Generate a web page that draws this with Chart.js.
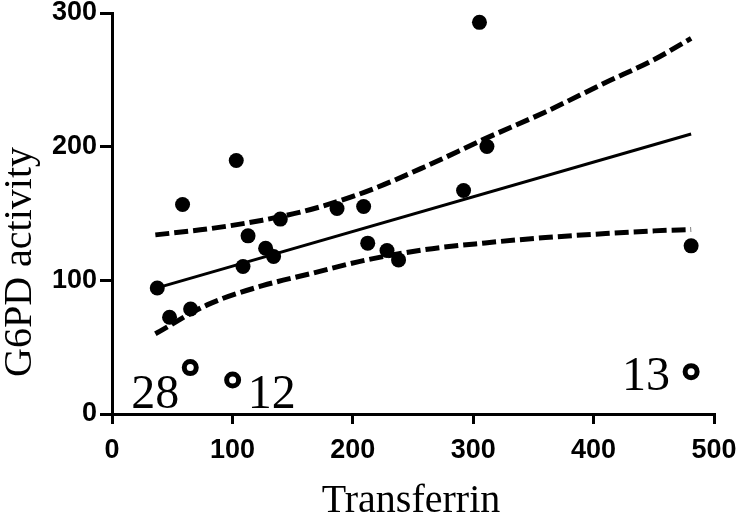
<!DOCTYPE html>
<html>
<head>
<meta charset="utf-8">
<script src="https://cdn.jsdelivr.net/npm/chart.js@4"></script>
<style>
  html, body { margin: 0; padding: 0; background: #fff; }
  #wrap { width: 740px; height: 525px; }
</style>
</head>
<body>
<div id="wrap"><canvas id="chartG6pd"></canvas></div>
<script>
// filled points (included in the fit)
var transferrin = [37.6, 47.8, 58.6, 65.3, 103.2, 108.8, 113, 127.6, 134.2, 139.8, 186.9, 209, 212.4, 228.4, 238, 292, 305.2, 311.4, 481];
var g6pd = [94.3, 72.4, 156.7, 78.6, 189.6, 110.3, 133.3, 124, 117.8, 145.8, 153.7, 155.2, 127.8, 122.3, 115.3, 167.2, 293, 200.1, 125.8];

// open points (excluded), with their case numbers
var outTransferrin = [65, 100.2, 481];
var outG6pd = [34.7, 25.5, 31.7];
var outLabels = ['28', '12', '13'];

// regression line ends
var fitX = [36, 481];
var fitY = [94, 209.5];

// 95% confidence band
var bandX = [36, 80, 125, 165, 210, 260, 310, 360, 410, 450, 481];
var bandUpper = [134, 138.5, 145, 153, 166, 185, 206, 226, 248, 265, 281];
var bandLower = [60, 82, 96, 105, 115, 123, 128, 132, 135, 137, 138];

var xTicks = [0, 100, 200, 300, 400, 500];
var yTicks = [0, 100, 200, 300];

function pts(xs, ys) {
    return xs.map(function (x, i) { return { x: x, y: ys[i] }; });
}

// where each case number sits relative to its open circle
var labelOffsets = [
    { dx: -11, dy: 40, align: 'right' },
    { dx: 15, dy: 28, align: 'left' },
    { dx: -21, dy: 18, align: 'right' }
];

var textPlugin = {
    id: 'textPlugin',
    afterDraw: function (chart) {
        var ctx = chart.ctx;
        var xs = chart.scales.x, ys = chart.scales.y;
        ctx.save();
        ctx.fillStyle = '#000';
        ctx.font = '48px "Liberation Serif"';
        ctx.textBaseline = 'alphabetic';
        outLabels.forEach(function (lab, i) {
            var o = labelOffsets[i];
            ctx.textAlign = o.align;
            ctx.fillText(lab, xs.getPixelForValue(outTransferrin[i]) + o.dx, ys.getPixelForValue(outG6pd[i]) + o.dy);
        });

        // axis titles
        ctx.font = '40px "Liberation Serif"';
        ctx.textAlign = 'center';
        ctx.fillText('Transferrin', 411, 512);
        ctx.translate(31, 262);
        ctx.rotate(-Math.PI / 2);
        ctx.fillText('G6PD activity', 0, 0);
        ctx.restore();
    }
};

var tickFont = { family: '"Liberation Sans"', size: 27, weight: 'bold' };

var ctxG6pd = document.getElementById('chartG6pd').getContext('2d');
var chartG6pd = new Chart(ctxG6pd, {
    type: 'scatter',
    data: {
        datasets: [{
            data: pts(transferrin, g6pd),
            backgroundColor: '#000',
            borderColor: '#000',
            pointRadius: 7.5,
            borderWidth: 0
        }, {
            data: pts(outTransferrin, outG6pd),
            backgroundColor: '#fff',
            borderColor: '#000',
            pointRadius: 6,
            borderWidth: 5
        }, {
            data: pts(fitX, fitY),
            showLine: true,
            borderColor: '#000',
            borderWidth: 3,
            pointRadius: 0
        }, {
            data: pts(bandX, bandUpper),
            showLine: true,
            borderColor: '#000',
            borderWidth: 5,
            borderDash: [14, 5],
            cubicInterpolationMode: 'monotone',
            pointRadius: 0
        }, {
            data: pts(bandX, bandLower),
            showLine: true,
            borderColor: '#000',
            borderWidth: 5,
            borderDash: [14, 5],
            cubicInterpolationMode: 'monotone',
            pointRadius: 0
        }]
    },
    options: {
        responsive: true,
        maintainAspectRatio: false,
        animation: false,
        layout: { padding: { top: 13, right: 26, left: 0, bottom: 0 } },
        plugins: { legend: { display: false }, tooltip: { enabled: false } },
        scales: {
            x: {
                type: 'linear',
                min: 0, max: 500,
                afterFit: function (s) { s.height = 111; s.paddingRight = 0; s.paddingLeft = 0; },
                afterBuildTicks: function (s) { s.ticks = xTicks.map(function (v) { return { value: v }; }); },
                border: { color: '#000', width: 3 },
                grid: { drawOnChartArea: false, drawTicks: true, tickLength: 10, color: '#000', lineWidth: 3 },
                ticks: { color: '#000', font: tickFont, padding: 10, maxRotation: 0 }
            },
            y: {
                type: 'linear',
                min: 0, max: 300,
                afterFit: function (s) { s.width = 112; s.paddingTop = 0; s.paddingBottom = 0; },
                afterBuildTicks: function (s) { s.ticks = yTicks.map(function (v) { return { value: v }; }); },
                border: { color: '#000', width: 3 },
                grid: { drawOnChartArea: false, drawTicks: true, tickLength: 12, color: '#000', lineWidth: 3 },
                ticks: { color: '#000', font: tickFont, padding: 3 }
            }
        }
    },
    plugins: [textPlugin]
});
</script>
</body>
</html>
